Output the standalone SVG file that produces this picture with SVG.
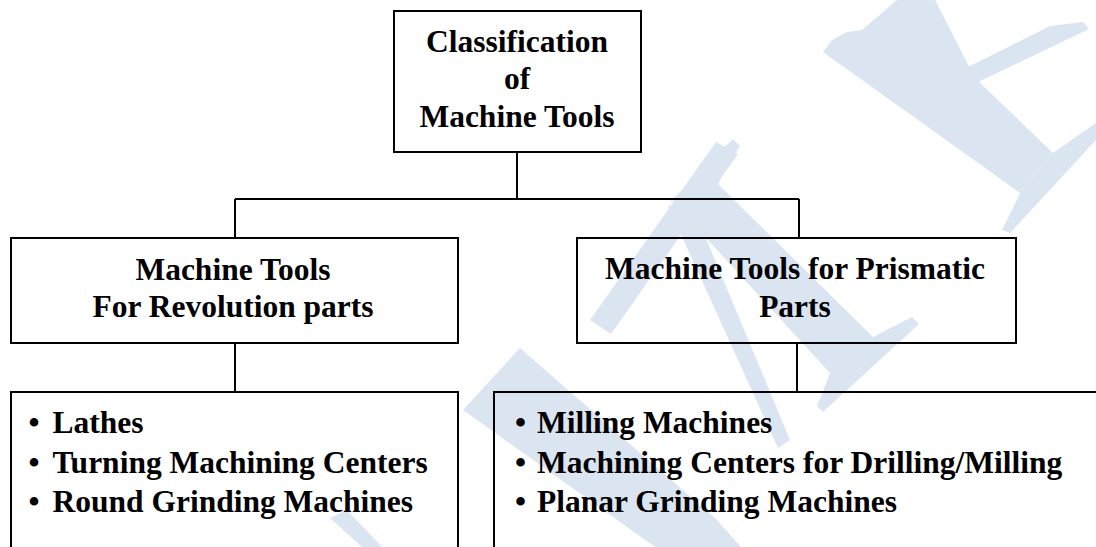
<svg xmlns="http://www.w3.org/2000/svg" width="1096" height="547" viewBox="0 0 1096 547">
<style>
.box{fill:none;stroke:#000;stroke-width:2}
.wire{fill:none;stroke:#000;stroke-width:2}
.t{font-family:"Liberation Serif","Times New Roman",serif;font-weight:bold;font-size:31.5px;fill:#000}
.c{text-anchor:middle}
.wm{fill:#dbe5f1;stroke:none}
</style>
<rect x="0" y="0" width="1096" height="547" fill="#fff"/>
<g id="watermark">
<polygon class="wm" points="670,202 733,139 740,146 728,165 718,184"/>
<polygon class="wm" points="716,142 738,154 611,334 590,320"/>
<polygon class="wm" points="673,202 717,183 873,337 912,317 919,324 823,412 817,406 830,373"/>
<polygon class="wm" points="668,206 690,200 790,440 778,448"/>
<polygon class="wm" points="463,410 520,348 717,520 741,547 655,547"/>
<polygon class="wm" points="330,518 347,510 382,547 362,547"/>
<polygon class="wm" points="823,52 832,40 847,32 862,30 897,0 935,0 975,78 1053,153 1020,193"/>
<polygon class="wm" points="1053,153 1096,123 1096,140 1010,233 1002,230 1012,210 1020,193"/>
<polygon class="wm" points="962,70 1050,26 1083,22 1089,29 976,83"/>
</g>
<g id="connectors">
<path class="wire" d="M517,152 V199"/>
<path class="wire" d="M235,199 H799"/>
<path class="wire" d="M235,199 V238"/>
<path class="wire" d="M799,199 V238"/>
<path class="wire" d="M235,343 V392"/>
<path class="wire" d="M797,343 V392"/>
</g>
<g id="root">
<rect class="box" x="394" y="11" width="247" height="141"/>
<text class="t c" x="517" y="52">Classification</text>
<text class="t c" x="517" y="89">of</text>
<text class="t c" x="517" y="127">Machine Tools</text>
</g>
<g id="revolution">
<rect class="box" x="11" y="238" width="447" height="105"/>
<text class="t c" x="233" y="280">Machine Tools</text>
<text class="t c" x="233" y="317">For Revolution parts</text>
</g>
<g id="prismatic">
<rect class="box" x="577" y="238" width="439" height="105"/>
<text class="t c" x="795" y="279">Machine Tools for Prismatic</text>
<text class="t c" x="795" y="317">Parts</text>
</g>
<g id="revolution-list">
<rect class="box" x="11" y="392" width="447" height="170"/>
<text class="t c" x="34" y="433">•</text>
<text class="t" x="52.5" y="433">Lathes</text>
<text class="t c" x="34" y="472.5">•</text>
<text class="t" x="52.5" y="472.5">Turning Machining Centers</text>
<text class="t c" x="34" y="511.5">•</text>
<text class="t" x="52.5" y="511.5">Round Grinding Machines</text>
</g>
<g id="prismatic-list">
<rect class="box" x="494" y="392" width="620" height="170"/>
<text class="t c" x="520.5" y="433">•</text>
<text class="t" x="537" y="433">Milling Machines</text>
<text class="t c" x="520.5" y="472.5">•</text>
<text class="t" x="537" y="472.5">Machining Centers for Drilling/Milling</text>
<text class="t c" x="520.5" y="511.5">•</text>
<text class="t" x="537" y="511.5">Planar Grinding Machines</text>
</g>
</svg>
